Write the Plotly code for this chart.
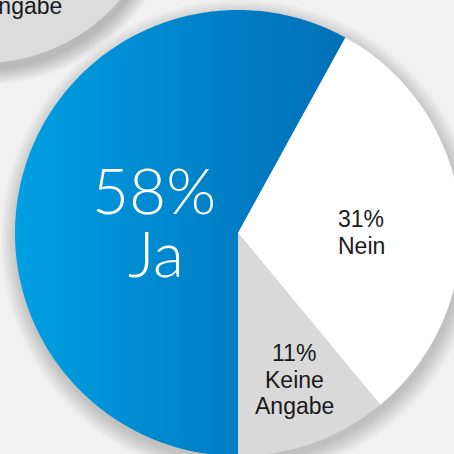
import numpy as np
import plotly.graph_objects as go

# ---- data ----
labels = ["Ja", "Nein", "Keine Angabe"]
values = [58, 31, 11]
pct_text = ["58%", "31%", "11%"]
slice_colors = ["#0088cc", "#ffffff", "#d9d9d9"]

# ---- layout constants (pixel space) ----
W = H = 454
CX, CY, R = 238, 233, 223
START = 180.0  # clockwise degrees from 12 o'clock where "Ja" starts
BG = "#f1f1f1"

def circle_pts(cx, cy, r, n=240):
    t = np.linspace(0, 2 * np.pi, n)
    return cx + r * np.sin(t), cy - r * np.cos(t)

def wedge_pts(a0, a1, n=200):
    t = np.radians(np.linspace(a0, a1, n))
    xs = np.concatenate([[CX], CX + R * np.sin(t), [CX]])
    ys = np.concatenate([[CY], CY - R * np.cos(t), [CY]])
    return xs, ys

fig = go.Figure()

# decorative neighbouring pie (top-left), with soft shadow
for k in range(10):
    x, y = circle_pts(-17 + 3, -117 + 7, 180 + k * 1.6)
    fig.add_trace(go.Scatter(x=x, y=y, fill="toself", mode="none",
                             fillcolor="rgba(0,0,0,0.024)", hoverinfo="skip", showlegend=False))
x, y = circle_pts(-17, -117, 180)
fig.add_trace(go.Scatter(x=x, y=y, fill="toself", mode="none",
                         fillcolor="#dcdcdc", hoverinfo="skip", showlegend=False))

# shadow of main pie
for k in range(10):
    x, y = circle_pts(CX + 2, CY + 6, R + k * 1.8)
    fig.add_trace(go.Scatter(x=x, y=y, fill="toself", mode="none",
                             fillcolor="rgba(0,0,0,0.018)", hoverinfo="skip", showlegend=False))

# slices from the data
total = float(sum(values))
a = START
for i, (lab, v) in enumerate(zip(labels, values)):
    span = 360.0 * v / total
    xs, ys = wedge_pts(a, a + span)
    kw = dict(fillcolor=slice_colors[i])
    if i == 0:
        kw["fillgradient"] = dict(type="horizontal",
                                  colorscale=[[0, "#00a0e3"], [0.67, "#007dc4"], [1, "#0070b8"]],
                                  start=CX - R, stop=345)
    fig.add_trace(go.Scatter(x=xs, y=ys, fill="toself", mode="none", name=lab,
                             hoverinfo="skip", showlegend=False, **kw))
    a += span

ann = []
# big label for Ja
big = dict(family="Lato, Liberation Sans, sans-serif", size=64, color="white", weight=300)
ann.append(dict(x=154, y=189, text=pct_text[0], font=big))
ann.append(dict(x=156, y=252, text=labels[0], font=big))
small = dict(family="Liberation Sans, Arial, sans-serif", size=23, color="#1a1a1a")
ann.append(dict(x=361, y=219, text=pct_text[1], font=small))
ann.append(dict(x=361, y=246, text=labels[1], font=small))
kw_lines = labels[2].split(" ")
ann.append(dict(x=294, y=353, text=pct_text[2], font=small))
ann.append(dict(x=294, y=380, text=kw_lines[0], font=small))
ann.append(dict(x=294, y=406, text=kw_lines[1], font=small))
# cropped label of neighbouring pie
ann.append(dict(x=64, y=6, text="Angabe", font=small, xanchor="right"))
for d in ann:
    d.update(xref="x", yref="y", showarrow=False)
    d.setdefault("xanchor", "center")
    d.setdefault("yanchor", "middle")

fig.update_layout(
    width=W, height=H, margin=dict(l=0, r=0, t=0, b=0),
    paper_bgcolor=BG, plot_bgcolor=BG,
    xaxis=dict(range=[0, W], visible=False, fixedrange=True),
    yaxis=dict(range=[H, 0], visible=False, fixedrange=True),
    annotations=ann, showlegend=False,
)
fig.write_html(
    "out.html",
    config={"displayModeBar": False},
    post_script="document.body.style.margin='0';document.body.style.overflow='hidden';"
                "document.body.style.background='" + BG + "';",
)
